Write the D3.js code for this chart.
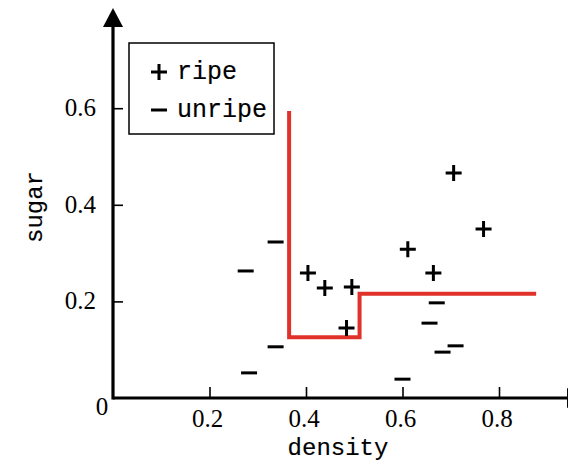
<!DOCTYPE html>
<html>
<head>
<meta charset="utf-8">
<script src="https://cdn.jsdelivr.net/npm/d3@7"></script>
<style>
  html, body { margin: 0; padding: 0; background: #fff; }
  .tick text { font-family: "Liberation Serif", "Times New Roman", "DejaVu Serif", serif; font-size: 25px; fill: #000; }
  .mono { font-family: "Liberation Mono", "Courier New", monospace; fill: #000; stroke: #000; stroke-width: 0.15; }
</style>
</head>
<body>
<div id="chart"></div>
<script>
// data
const ripeDensity = [0.706, 0.768, 0.611, 0.664, 0.404, 0.439, 0.495, 0.484];
const ripeSugar   = [0.466, 0.350, 0.308, 0.259, 0.259, 0.228, 0.230, 0.145];
const unripeDensity = [0.337, 0.275, 0.337, 0.282, 0.600, 0.671, 0.656, 0.710, 0.683];
const unripeSugar   = [0.323, 0.263, 0.106, 0.052, 0.039, 0.197, 0.155, 0.108, 0.095];
const boundaryX = [0.365, 0.365, 0.511, 0.511, 0.877];
const boundaryY = [0.594, 0.126, 0.126, 0.216, 0.216];
const xTicks = [0.2, 0.4, 0.6, 0.8];
const yTicks = [0.2, 0.4, 0.6];
const legendLabels = ["ripe", "unripe"];

const width = 568, height = 468;
const svg = d3.select("#chart").append("svg")
  .attr("width", width)
  .attr("height", height);

const x = d3.scaleLinear().domain([0, 1]).range([113, 595.5]);
const y = d3.scaleLinear().domain([0, 1]).range([398, -85]);

const xEnd = 0.941, yEnd = 0.768;   // where the arrow heads start
const arrowLen = 19, arrowHalf = 10;

// axes ticks + labels
const xAxis = svg.append("g")
  .attr("transform", `translate(0,${y(0)})`)
  .call(d3.axisBottom(x).tickValues(xTicks).tickSizeInner(-11).tickSizeOuter(0).tickPadding(11));
const yAxis = svg.append("g")
  .attr("transform", `translate(${x(0)},0)`)
  .call(d3.axisLeft(y).tickValues(yTicks).tickSizeInner(-10).tickSizeOuter(0).tickPadding(17));
[xAxis, yAxis].forEach(a => {
  a.attr("font-family", null).attr("font-size", null);
  a.select(".domain").remove();
  a.selectAll(".tick line").attr("stroke", "#000").attr("stroke-width", 1.6);
});
xAxis.selectAll(".tick text").attr("dx", "-0.1em");
yAxis.selectAll(".tick text").attr("dy", "0.3em");

svg.append("text")
  .attr("x", x(0) - 11)
  .attr("y", y(0) + 17)
  .attr("text-anchor", "middle")
  .style("font-family", "'Liberation Serif', 'Times New Roman', serif")
  .style("font-size", "25px")
  .text("0");

// axis lines with arrow heads
svg.append("line")
  .attr("x1", x(0)).attr("y1", y(0))
  .attr("x2", x(xEnd)).attr("y2", y(0))
  .attr("stroke", "#000").attr("stroke-width", 3.2);
svg.append("line")
  .attr("x1", x(0)).attr("y1", y(0) + 1.6)
  .attr("x2", x(0)).attr("y2", y(yEnd))
  .attr("stroke", "#000").attr("stroke-width", 3.2);
svg.append("path")
  .attr("d", `M${x(xEnd)},${y(0) - arrowHalf}L${x(xEnd) + arrowLen},${y(0)}L${x(xEnd)},${y(0) + arrowHalf}Z`)
  .attr("fill", "#000");
svg.append("path")
  .attr("d", `M${x(0) - arrowHalf},${y(yEnd)}L${x(0)},${y(yEnd) - arrowLen}L${x(0) + arrowHalf},${y(yEnd)}Z`)
  .attr("fill", "#000");

// decision boundary
const boundary = boundaryX.map((d, i) => [d, boundaryY[i]]);
svg.append("path")
  .datum(boundary)
  .attr("fill", "none")
  .attr("stroke", "#e0322b")
  .attr("stroke-width", 4)
  .attr("d", d3.line().x(d => x(d[0])).y(d => y(d[1])));

// markers
const s = 8;
const plusPath = `M${-s},0H${s}M0,${-s}V${s}`;
const minusPath = `M${-s},0H${s}`;

svg.selectAll(".ripe")
  .data(ripeDensity.map((d, i) => [d, ripeSugar[i]]))
  .enter().append("path")
  .attr("class", "ripe")
  .attr("transform", d => `translate(${x(d[0])},${y(d[1])})`)
  .attr("d", plusPath)
  .attr("stroke", "#000").attr("stroke-width", 3);

svg.selectAll(".unripe")
  .data(unripeDensity.map((d, i) => [d, unripeSugar[i]]))
  .enter().append("path")
  .attr("class", "unripe")
  .attr("transform", d => `translate(${x(d[0])},${y(d[1])})`)
  .attr("d", minusPath)
  .attr("stroke", "#000").attr("stroke-width", 3);

// axis titles
svg.append("text")
  .attr("class", "mono")
  .attr("x", 338).attr("y", 455)
  .attr("text-anchor", "middle")
  .style("font-size", "24px")
  .text("density");
svg.append("text")
  .attr("class", "mono")
  .attr("transform", "translate(42,207) rotate(-90)")
  .attr("text-anchor", "middle")
  .style("font-size", "24px")
  .text("sugar");

// legend
const legend = svg.append("g");
legend.append("rect")
  .attr("x", 129).attr("y", 43)
  .attr("width", 145).attr("height", 91)
  .attr("fill", "#fff")
  .attr("stroke", "#000").attr("stroke-width", 1.5);
legendLabels.forEach((lab, i) => {
  const cy = 72 + i * 38;
  legend.append("path")
    .attr("transform", `translate(159,${cy})`)
    .attr("d", i === 0 ? plusPath : minusPath)
    .attr("stroke", "#000").attr("stroke-width", 3);
  legend.append("text")
    .attr("class", "mono")
    .attr("x", 177).attr("y", cy + 7)
    .style("font-size", "25px")
    .text(lab);
});
</script>
</body>
</html>
